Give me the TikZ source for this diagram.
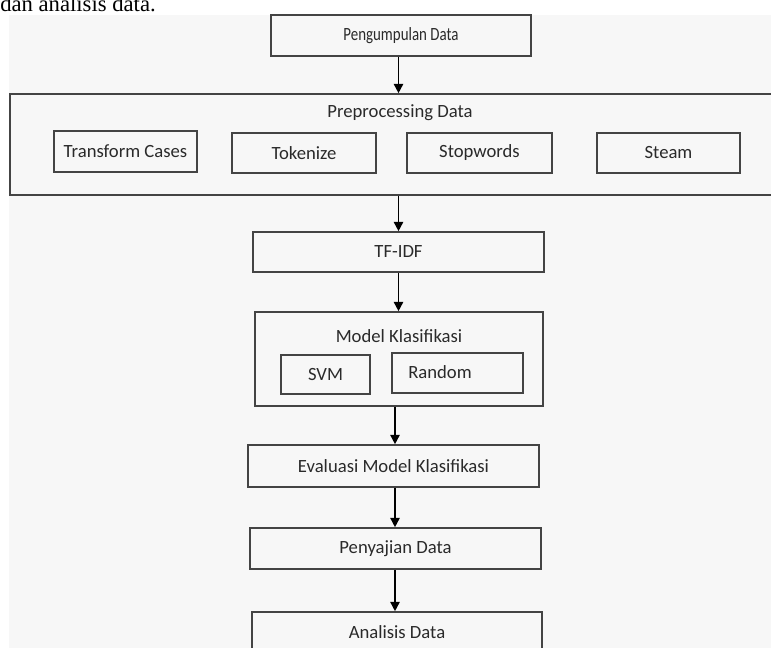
\documentclass[tikz,border=0pt]{standalone}
\usepackage{fontspec}
\setmainfont{Carlito}
\newfontfamily\introfont{Liberation Serif}
\usetikzlibrary{arrows.meta}
\definecolor{bggray}{HTML}{F7F7F7}
\definecolor{boxline}{HTML}{444444}
\definecolor{boxtext}{HTML}{2A2A2A}

\begin{document}
\begin{tikzpicture}[x=0.75pt,y=-0.75pt,>={Triangle[length=7pt,width=7pt]},
    box/.style={draw=boxline,line width=1.2pt,rectangle,inner sep=0pt,
        minimum height=30pt,text=boxtext,font=\fontsize{14}{16}\selectfont},
    title/.style={inner sep=0pt,text=boxtext,font=\fontsize{14}{16}\selectfont},
    flow/.style={->,draw=black,line width=1.2pt}]

    \useasboundingbox (0,0) rectangle (771,648);
    \clip (0,0) rectangle (771,648);
    \fill[bggray] (9,15) rectangle (771,648);
    \node[anchor=base west,inner sep=0pt,font=\introfont\fontsize{17}{19}\selectfont] (intro) at (0,12) {dan analisis data.};

    % top
    \node[box,minimum width=195pt,minimum height=30.75pt] (pengumpulan) at (401,35.5) {\scalebox{0.8}[1]{Pengumpulan Data}};

    % preprocessing
    \node[box,minimum width=585pt,minimum height=75.75pt] (preproc) at (400,144.5) {};
    \node[title] (preproctitle) at (400,113) {Preprocessing Data};
    \node[box,minimum width=107.25pt,minimum height=30.75pt] (transform) at (125.5,151.5) {Transform Cases};
    \node[box,minimum width=108pt] (tokenize) at (304,153) {Tokenize};
    \node[box,minimum width=108.75pt] (stopwords) at (479.5,153) {Stopwords};
    \node[box,minimum width=107.25pt] (steam) at (668.5,153) {Steam};

    \node[box,minimum width=218.25pt] (tfidf) at (398.5,252) {TF-IDF};

    % model
    \node[box,minimum width=216pt,minimum height=70.5pt] (model) at (399,359) {};
    \node[title] (modeltitle) at (399,336) {Model Klasifikasi};
    \node[box,minimum width=66.75pt,minimum height=29.25pt] (svm) at (325.5,374.5) {SVM};
    \node[box,minimum width=98.25pt] (random) at (457.5,373) {};
    \node[title] (randomtext) at (440,372) {Random};

    \node[box,minimum width=218.25pt,minimum height=31.5pt] (evaluasi) at (393.5,466) {Evaluasi Model Klasifikasi};
    \node[box,minimum width=218.25pt,minimum height=30.75pt] (penyajian) at (395.5,548.5) {Penyajian Data};
    \node[box,minimum width=217.5pt] (analisis) at (397,632) {Analisis Data};

    \coordinate (lowaxis) at (395,0);
    \draw[flow] (pengumpulan.south -| tfidf.north) -- (tfidf.north |- preproc.north);
    \draw[flow] (tfidf.north |- preproc.south) -- (tfidf.north);
    \draw[flow] (tfidf.south) -- (tfidf.south |- model.north);
    \draw[flow] (model.south -| lowaxis) -- (evaluasi.north -| lowaxis);
    \draw[flow] (evaluasi.south -| lowaxis) -- (penyajian.north -| lowaxis);
    \draw[flow] (penyajian.south -| lowaxis) -- (analisis.north -| lowaxis);
\end{tikzpicture}
\end{document}
